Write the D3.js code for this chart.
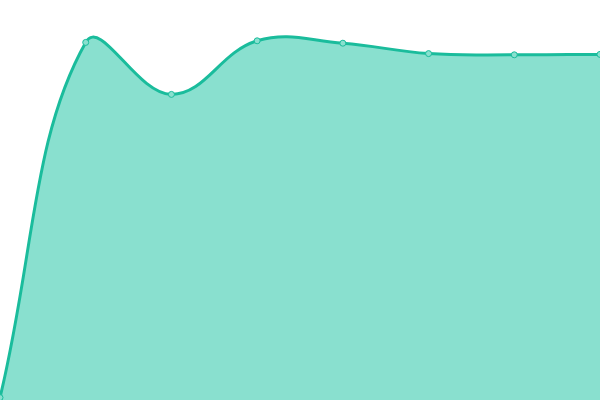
<!DOCTYPE html>
<html>
  <head>
    <meta charset='UTF-8'/>
    <script src="https://cdn.jsdelivr.net/npm/d3@7"></script>
    <style>
      body { margin : 0; background : white; }
    </style>
  </head>
  <body>
    <svg id='fig' width='600' height='400'></svg>
    <script>
      const width = 600, height = 400

      // values
      const steps = [0, 1, 2, 3, 4, 5, 6, 7]
      const values = [0.6, 89.4, 76.4, 89.8, 89.2, 86.6, 86.3, 86.4]

      const x = d3.scaleLinear().domain([0, 7]).range([0, width])
      const y = d3.scaleLinear().domain([0, 100]).range([height, 0])

      const pts = steps.map((s, i) => [x(s), y(values[i])])

      // spline with tension 0.4, control points weighted by segment length
      function splinePath(p, t, closeToBottom) {
	  const path = d3.path()
	  const n = p.length
	  const cps = p.map((c, i) => {
	      const a = p[i-1] || c, b = p[i+1] || c
	      const d01 = Math.hypot(c[0]-a[0], c[1]-a[1])
	      const d12 = Math.hypot(b[0]-c[0], b[1]-c[1])
	      let fa = d01/(d01+d12), fb = d12/(d01+d12)
	      if (isNaN(fa)) fa = 0
	      if (isNaN(fb)) fb = 0
	      fa *= t; fb *= t
	      return {
		  prev : [c[0] - fa*(b[0]-a[0]), c[1] - fa*(b[1]-a[1])],
		  next : [c[0] + fb*(b[0]-a[0]), c[1] + fb*(b[1]-a[1])]
	      }
	  })
	  path.moveTo(p[0][0], p[0][1])
	  for (let i = 1; i < n; i++) {
	      const c1 = cps[i-1].next, c2 = cps[i].prev
	      path.bezierCurveTo(c1[0], c1[1], c2[0], c2[1], p[i][0], p[i][1])
	  }
	  if (closeToBottom) {
	      path.lineTo(p[n-1][0], height)
	      path.lineTo(p[0][0], height)
	      path.closePath()
	  }
	  return path.toString()
      }

      const svg = d3.select("#fig")

      svg.append("path")
	  .attr("fill", "#89e0cf")
	  .attr("d", splinePath(pts, 0.4, true))

      svg.append("path")
	  .attr("fill", "none")
	  .attr("stroke", "#1abc9c")
	  .attr("stroke-width", 3)
	  .attr("d", splinePath(pts, 0.4, false))

      svg.append("g")
	  .selectAll("circle")
	  .data(pts)
	  .join("circle")
	  .attr("cx", d => d[0])
	  .attr("cy", d => d[1])
	  .attr("r", 3)
	  .attr("fill", "#89e0cf")
	  .attr("stroke", "#1abc9c")
	  .attr("stroke-width", 1)
    </script>
  </body>
</html>
